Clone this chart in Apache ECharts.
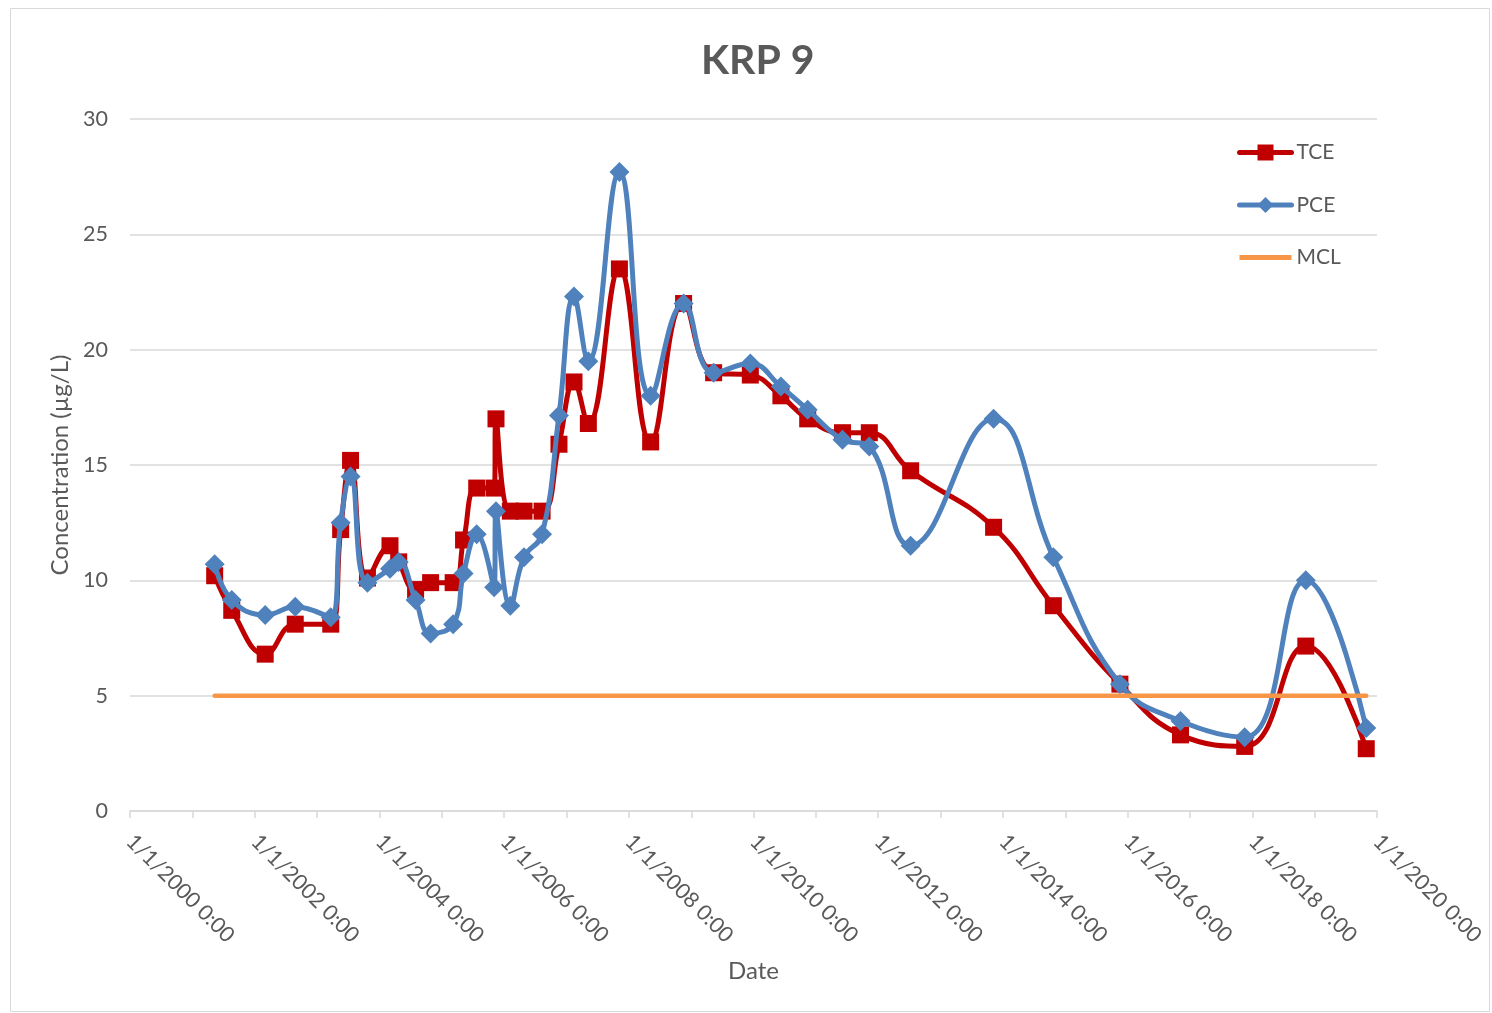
<!DOCTYPE html>
<html>
<head>
<meta charset="utf-8">
<script src="https://cdn.jsdelivr.net/npm/echarts@6/dist/echarts.min.js"></script>
<style>
html,body{margin:0;padding:0;background:#fff;}
#chart{width:1492px;height:1013px;}
</style>
</head>
<body>
<div id="chart"></div>
<script>
// Sample dates (shared by TCE and PCE)
const sampleDates = [
  '2001-05-11','2001-08-19','2002-03-03','2002-08-26','2003-03-22','2003-05-19','2003-07-16','2003-10-23',
  '2004-03-03','2004-04-23','2004-07-31','2004-10-27','2005-03-08','2005-05-08','2005-07-24','2005-11-03',
  '2005-11-14','2006-02-06','2006-04-27','2006-08-11','2006-11-18','2007-02-14','2007-05-09','2007-11-07',
  '2008-05-08','2008-11-17','2009-05-12','2009-12-13','2010-06-10','2010-11-14','2011-06-06','2011-11-10',
  '2012-07-09','2013-11-07','2014-10-23','2015-11-17','2016-11-06','2017-11-17','2018-11-10','2019-10-30'
];
const tceValues = [
  10.2, 8.7, 6.8, 8.1, 8.1, 12.2, 15.2, 10.1,
  11.5, 10.8, 9.6, 9.9, 9.9, 11.75, 14.0, 14.0,
  17.0, 13.0, 13.0, 13.0, 15.9, 18.6, 16.8, 23.5,
  16.0, 22.0, 19.0, 18.9, 18.0, 17.0, 16.4, 16.4,
  14.75, 12.3, 8.9, 5.5, 3.3, 2.8, 7.15, 2.7
];
const pceValues = [
  10.7, 9.15, 8.5, 8.85, 8.4, 12.5, 14.5, 9.9,
  10.5, 10.8, 9.15, 7.7, 8.1, 10.3, 12.0, 9.7,
  13.0, 8.9, 11.0, 12.0, 17.15, 22.3, 19.5, 27.7,
  18.0, 22.0, 19.0, 19.4, 18.4, 17.4, 16.1, 15.8,
  11.5, 17.0, 11.0, 5.5, 3.9, 3.2, 10.0, 3.6
];
const mclDates = ['2001-05-11', '2019-10-30'];
const mclValues = [5, 5];
const tickYears = [2000,2001,2002,2003,2004,2005,2006,2007,2008,2009,2010,2011,2012,2013,2014,2015,2016,2017,2018,2019,2020];
const labelYears = [2000,2002,2004,2006,2008,2010,2012,2014,2016,2018,2020];

const ts = d => Date.parse(d);
const pairs = (dates, vals) => dates.map((d, i) => [ts(d), vals[i]]);
const yearTs = y => Date.UTC(y, 0, 1);

const textColor = '#595959';
const fontFam = 'Lato, "Open Sans", sans-serif';

const chart = echarts.init(document.getElementById('chart'), null, {renderer: 'canvas'});
chart.setOption({
  backgroundColor: '#fff',
  animation: false,
  title: {
    text: 'KRP 9',
    left: 696,
    top: 35,
    textStyle: {color: textColor, fontSize: 41, fontWeight: 'bold', fontFamily: fontFam}
  },
  graphic: [{
    type: 'rect',
    shape: {x: 10.5, y: 8.5, width: 1479, height: 1003},
    style: {fill: 'none', stroke: '#d9d9d9', lineWidth: 1},
    silent: true
  }],
  legend: {
    orient: 'vertical',
    left: 1232,
    top: 137,
    itemWidth: 52,
    itemHeight: 20,
    itemGap: 31.5,
    lineStyle: {width: 5, cap: 'round'},
    textStyle: {color: textColor, fontSize: 21, fontFamily: fontFam},
    data: ['TCE', 'PCE', {name: 'MCL', icon: 'path://M0,0 L52,0 L52,5 L0,5 Z'}]
  },
  grid: {left: 130, right: 115, top: 119, bottom: 202},
  xAxis: {
    type: 'value',
    min: yearTs(2000),
    max: yearTs(2020),
    name: 'Date',
    nameLocation: 'middle',
    nameGap: 148,
    nameTextStyle: {color: textColor, fontSize: 24, fontFamily: fontFam},
    axisLine: {show: true, lineStyle: {color: '#d9d9d9', width: 1.5}},
    axisTick: {show: true, length: 7, lineStyle: {color: '#d9d9d9', width: 1.5},
      customValues: tickYears.map(yearTs)},
    axisLabel: {
      customValues: labelYears.map(yearTs),
      rotate: -45,
      margin: 27,
      color: textColor,
      fontSize: 21.5,
      fontFamily: fontFam,
      formatter: v => {
        const d = new Date(v);
        return (d.getUTCMonth() + 1) + '/' + d.getUTCDate() + '/' + d.getUTCFullYear() + ' 0:00';
      }
    },
    splitLine: {show: false}
  },
  yAxis: {
    type: 'value',
    min: 0,
    max: 30,
    interval: 5,
    name: 'Concentration (µg/L)',
    nameLocation: 'middle',
    nameGap: 58,
    nameTextStyle: {color: textColor, fontSize: 24, fontFamily: fontFam},
    axisLine: {show: false},
    axisTick: {show: false},
    axisLabel: {color: textColor, fontSize: 21.5, fontFamily: fontFam, margin: 22},
    splitLine: {show: true, lineStyle: {color: '#d9d9d9', width: 1.5}}
  },
  series: [
    {
      name: 'TCE',
      type: 'line',
      data: pairs(sampleDates, tceValues),
      smooth: 0.45,
      symbol: 'rect',
      symbolSize: 17,
      color: '#c00000',
      lineStyle: {width: 5, color: '#c00000', cap: 'round', join: 'round'},
      itemStyle: {color: '#c00000'},
      z: 2
    },
    {
      name: 'PCE',
      type: 'line',
      data: pairs(sampleDates, pceValues),
      smooth: 0.45,
      symbol: 'diamond',
      symbolSize: 20,
      color: '#4f81bd',
      lineStyle: {width: 5, color: '#4f81bd', cap: 'round', join: 'round'},
      itemStyle: {color: '#4f81bd'},
      z: 3
    },
    {
      name: 'MCL',
      type: 'line',
      data: pairs(mclDates, mclValues),
      symbol: 'none',
      color: '#f79646',
      lineStyle: {width: 4.5, color: '#f79646', cap: 'round'},
      z: 4
    }
  ]
});
</script>
</body>
</html>
